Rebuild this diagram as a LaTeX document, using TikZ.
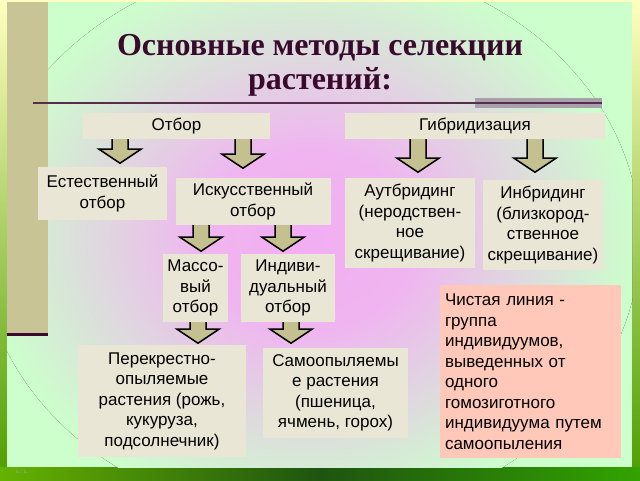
\documentclass[tikz,border=0pt]{standalone}
\usepackage{fontspec}
\setmainfont{Liberation Sans}
\newfontfamily\titlefont{Liberation Serif}
\usetikzlibrary{positioning}

\definecolor{slidegreen}{RGB}{204,255,204}
\definecolor{barkhaki}{RGB}{200,196,150}
\definecolor{arrowkhaki}{RGB}{196,192,144}
\definecolor{boxbeige}{RGB}{234,230,214}
\definecolor{salmon}{RGB}{255,200,184}
\definecolor{titleplum}{RGB}{58,10,46}
\definecolor{rulegray}{RGB}{168,160,170}
\definecolor{leafdark}{RGB}{30,84,16}
\pgfdeclareradialshading{glow}{\pgfpoint{0bp}{0bp}}{rgb(0bp)=(0.95,0.68,0.95); rgb(8bp)=(0.94,0.71,0.94); rgb(25bp)=(0.8,1,0.8); rgb(50bp)=(0.8,1,0.8)}

\tikzset{downarr/.pic={
    \fill[arrowkhaki] (-8,0) -- (8,0) -- (8,#1-14) -- (21,#1-14) -- (0,#1) -- (-21,#1-14) -- (-8,#1-14) -- cycle;
    \draw[line width=1.5] (8,0) -- (8,#1-14) -- (21,#1-14) -- (0,#1) -- (-21,#1-14) -- (-8,#1-14) -- (-8,0);}}

\begin{document}
\begin{tikzpicture}[x=1pt, y=-1pt,
    box/.style={fill=boxbeige, inner sep=0pt, align=center, font=\fontsize{17}{20.5}\selectfont},
    notebox/.style={box, fill=salmon, align=left, text width=170},
    headline/.style={anchor=base, text=titleplum, font=\titlefont\bfseries\fontsize{32}{34}\selectfont}]
  \useasboundingbox (0,0) rectangle (640,480);
  % slide background
  \shade[top color=yellow!25!white, bottom color=green!45!black!70!yellow] (0,0) rectangle (640,480);
  \shade[left color=green!50!black!60!yellow, right color=green!55!black!80!yellow, middle color=leafdark] (0,467) rectangle (640,480);
  \fill[slidegreen] (7,2) rectangle (632,467);
  \begin{scope}
    \clip (7,2) rectangle (632,467);
    \fill[shading=glow] (310,240) ellipse [x radius=330, y radius=280];
  \end{scope}
  \fill[barkhaki] (7,2) rectangle (48,334);
  \draw[titleplum, line width=3] (7,334) -- (48,334);
  \fill[rulegray] (475,98) rectangle (602,108);
  \draw[titleplum!85, line width=1.5] (33,103) -- (602,103);
  \node[font=\tiny, text=green!40!black!50] (sign) at (22,472) {Б.Г.Б.};

  \node[headline] (title1) at (320,55) {Основные методы селекции};
  \node[headline] (title2) at (320,89) {растений:};

  \node[box, minimum width=187, minimum height=26] (otbor) at (176.5,126) {Отбор};
  \node[box, minimum width=260, minimum height=26] (gibr) at (475,126) {Гибридизация};
  \node[box, minimum width=129, minimum height=53] (estest) at (102.5,193.5) {Естественный\\отбор};
  \node[box, minimum width=155, minimum height=47] (iskus) at (253,201.5) {Искусственный\\отбор};
  \node[box, minimum width=130, minimum height=90] (autbr) at (410,223) {Аутбридинг\\(неродствен-\\ное\\скрещивание)};
  \node[box, minimum width=120, minimum height=90] (inbr) at (543,225) {Инбридинг\\(близкород-\\ственное\\скрещивание)};
  \node[box, minimum width=65, minimum height=68] (masso) at (195.5,288) {Массо-\\вый\\отбор};
  \node[box, minimum width=94, minimum height=68] (indiv) at (288,288) {Индиви-\\дуальный\\отбор};
  \node[box, minimum width=168, minimum height=112] (perekr) at (162,401) {Перекрестно-\\опыляемые\\растения (рожь,\\кукуруза,\\подсолнечник)};
  \node[box, minimum width=145, minimum height=90] (samo) at (335.5,393) {Самоопыляемы\\е растения\\(пшеница,\\ячмень, горох)};
  \node[notebox, minimum width=181, minimum height=173] (chist) at (530,371.5) {Чистая линия -\\группа\\индивидуумов,\\выведенных от\\одного\\гомозиготного\\индивидуума путем\\самоопыления};

  \pic at (otbor.south -| 120,0) {downarr=24};
  \pic at (otbor.south -| 243,0) {downarr=29};
  \pic at (gibr.south -| 418,0) {downarr=33};
  \pic at (gibr.south -| 535,0) {downarr=33};
  \pic at (iskus.south -| 201,0) {downarr=26};
  \pic at (iskus.south -| 283,0) {downarr=26};
  \pic at (masso.south -| 198,0) {downarr=21};
  \pic at (indiv.south -| 291,0) {downarr=21};
\end{tikzpicture}
\end{document}
